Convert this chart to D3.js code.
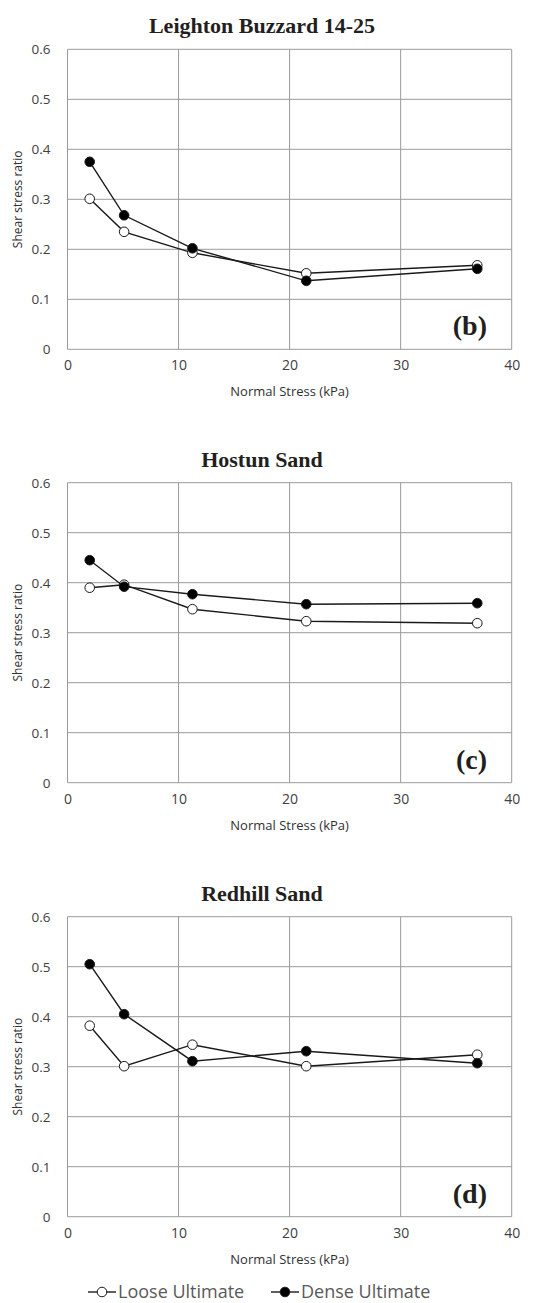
<!DOCTYPE html>
<html><head><meta charset="utf-8">
<script src="https://cdn.jsdelivr.net/npm/d3@7"></script>
<style>
body{margin:0;background:#fff;}
svg{display:block;}
</style></head>
<body>
<script>
const titles = ["Leighton Buzzard 14-25", "Hostun Sand", "Redhill Sand"];
const panelTags = ["(b)", "(c)", "(d)"];
const seriesNames = ["Loose Ultimate", "Dense Ultimate"];
const normalStress = [2.0, 5.1, 11.25, 21.5, 36.9];
const lbLoose = [0.301, 0.235, 0.193, 0.152, 0.168];
const lbDense = [0.375, 0.268, 0.202, 0.137, 0.161];
const hoLoose = [0.390, 0.396, 0.347, 0.323, 0.319];
const hoDense = [0.445, 0.392, 0.377, 0.357, 0.359];
const rhLoose = [0.382, 0.301, 0.344, 0.301, 0.324];
const rhDense = [0.505, 0.405, 0.311, 0.331, 0.307];
const xTicks = [0, 10, 20, 30, 40];
const yTicks = [0, 0.1, 0.2, 0.3, 0.4, 0.5, 0.6];
const xLabel = "Normal Stress (kPa)";
const yLabel = "Shear stress ratio";

const panels = [
  {loose: lbLoose, dense: lbDense},
  {loose: hoLoose, dense: hoDense},
  {loose: rhLoose, dense: rhDense}
];

const W = 549, H = 1303;
const svg = d3.select("body").append("svg").attr("width", W).attr("height", H);
const left = 67.5, right = 511.7, plotH = 300;
const tops = [49.3, 482.7, 916.7];
const sans = "'Open Sans', sans-serif";
const serif = "'Liberation Serif', 'Times New Roman', serif";

const x = d3.scaleLinear().domain([0, 40]).range([left, right]);

panels.forEach((p, i) => {
  const top = tops[i];
  const y = d3.scaleLinear().domain([0, 0.6]).range([top + plotH, top]);
  const g = svg.append("g");

  g.append("g").selectAll("line").data(yTicks).join("line")
    .attr("x1", left).attr("x2", right)
    .attr("y1", d => y(d)).attr("y2", d => y(d))
    .attr("stroke", "#9a9a9a").attr("stroke-width", 1);
  g.append("g").selectAll("line").data(xTicks).join("line")
    .attr("x1", d => x(d)).attr("x2", d => x(d))
    .attr("y1", top).attr("y2", top + plotH)
    .attr("stroke", "#9a9a9a").attr("stroke-width", 1);

  const ya = g.append("g").attr("transform", `translate(${left},0)`)
    .call(d3.axisLeft(y).tickValues(yTicks).tickSize(0).tickPadding(17)
      .tickFormat(d => d === 0 ? "0" : d3.format(".1f")(d)));
  ya.select(".domain").remove();
  ya.selectAll("text").attr("font-family", sans).attr("font-size", 13.5).attr("fill", "#404040");

  const xa = g.append("g").attr("transform", `translate(0,${top + plotH})`)
    .call(d3.axisBottom(x).tickValues(xTicks).tickSize(0).tickPadding(11).tickFormat(d3.format("d")));
  xa.select(".domain").remove();
  xa.selectAll("text").attr("font-family", sans).attr("font-size", 14).attr("fill", "#404040");

  g.append("text").attr("x", (left + right) / 2).attr("y", top + plotH + 47)
    .attr("text-anchor", "middle").attr("font-family", sans).attr("font-size", 13)
    .attr("fill", "#303030").text(xLabel);

  g.append("text").attr("transform", `translate(22,${top + plotH / 2}) rotate(-90)`)
    .attr("text-anchor", "middle").attr("font-family", sans).attr("font-size", 12)
    .attr("fill", "#303030").text(yLabel);

  g.append("text").attr("x", 262).attr("y", top - 16)
    .attr("text-anchor", "middle").attr("font-family", serif).attr("font-weight", "bold")
    .attr("font-size", 22).attr("fill", "#231f20").text(titles[i]);

  g.append("text").attr("x", 487).attr("y", top + plotH - 14)
    .attr("text-anchor", "end").attr("font-family", serif).attr("font-weight", "bold")
    .attr("font-size", 28).attr("fill", "#231f20").text(panelTags[i]);

  const line = d3.line().x((d, k) => x(normalStress[k])).y(d => y(d));
  [["loose", "#fff"], ["dense", "#000"]].forEach(([key, fill]) => {
    g.append("path").datum(p[key]).attr("d", line)
      .attr("fill", "none").attr("stroke", "#1a1a1a").attr("stroke-width", 1.4);
    g.append("g").selectAll("circle").data(p[key]).join("circle")
      .attr("cx", (d, k) => x(normalStress[k])).attr("cy", d => y(d))
      .attr("r", 4.8).attr("fill", fill).attr("stroke", "#1a1a1a").attr("stroke-width", 1);
  });
});

const leg = svg.append("g");
const legItems = [{name: seriesNames[0], fill: "#fff", x0: 88}, {name: seriesNames[1], fill: "#000", x0: 271}];
legItems.forEach(it => {
  const ly = 1292;
  leg.append("line").attr("x1", it.x0).attr("x2", it.x0 + 28).attr("y1", ly).attr("y2", ly)
    .attr("stroke", "#1a1a1a").attr("stroke-width", 1.4);
  leg.append("circle").attr("cx", it.x0 + 14).attr("cy", ly).attr("r", 4.8)
    .attr("fill", it.fill).attr("stroke", "#1a1a1a").attr("stroke-width", 1);
  leg.append("text").attr("x", it.x0 + 30).attr("y", ly + 6)
    .attr("font-family", sans).attr("font-size", 18).attr("fill", "#595959").text(it.name);
});
</script>
</body></html>
